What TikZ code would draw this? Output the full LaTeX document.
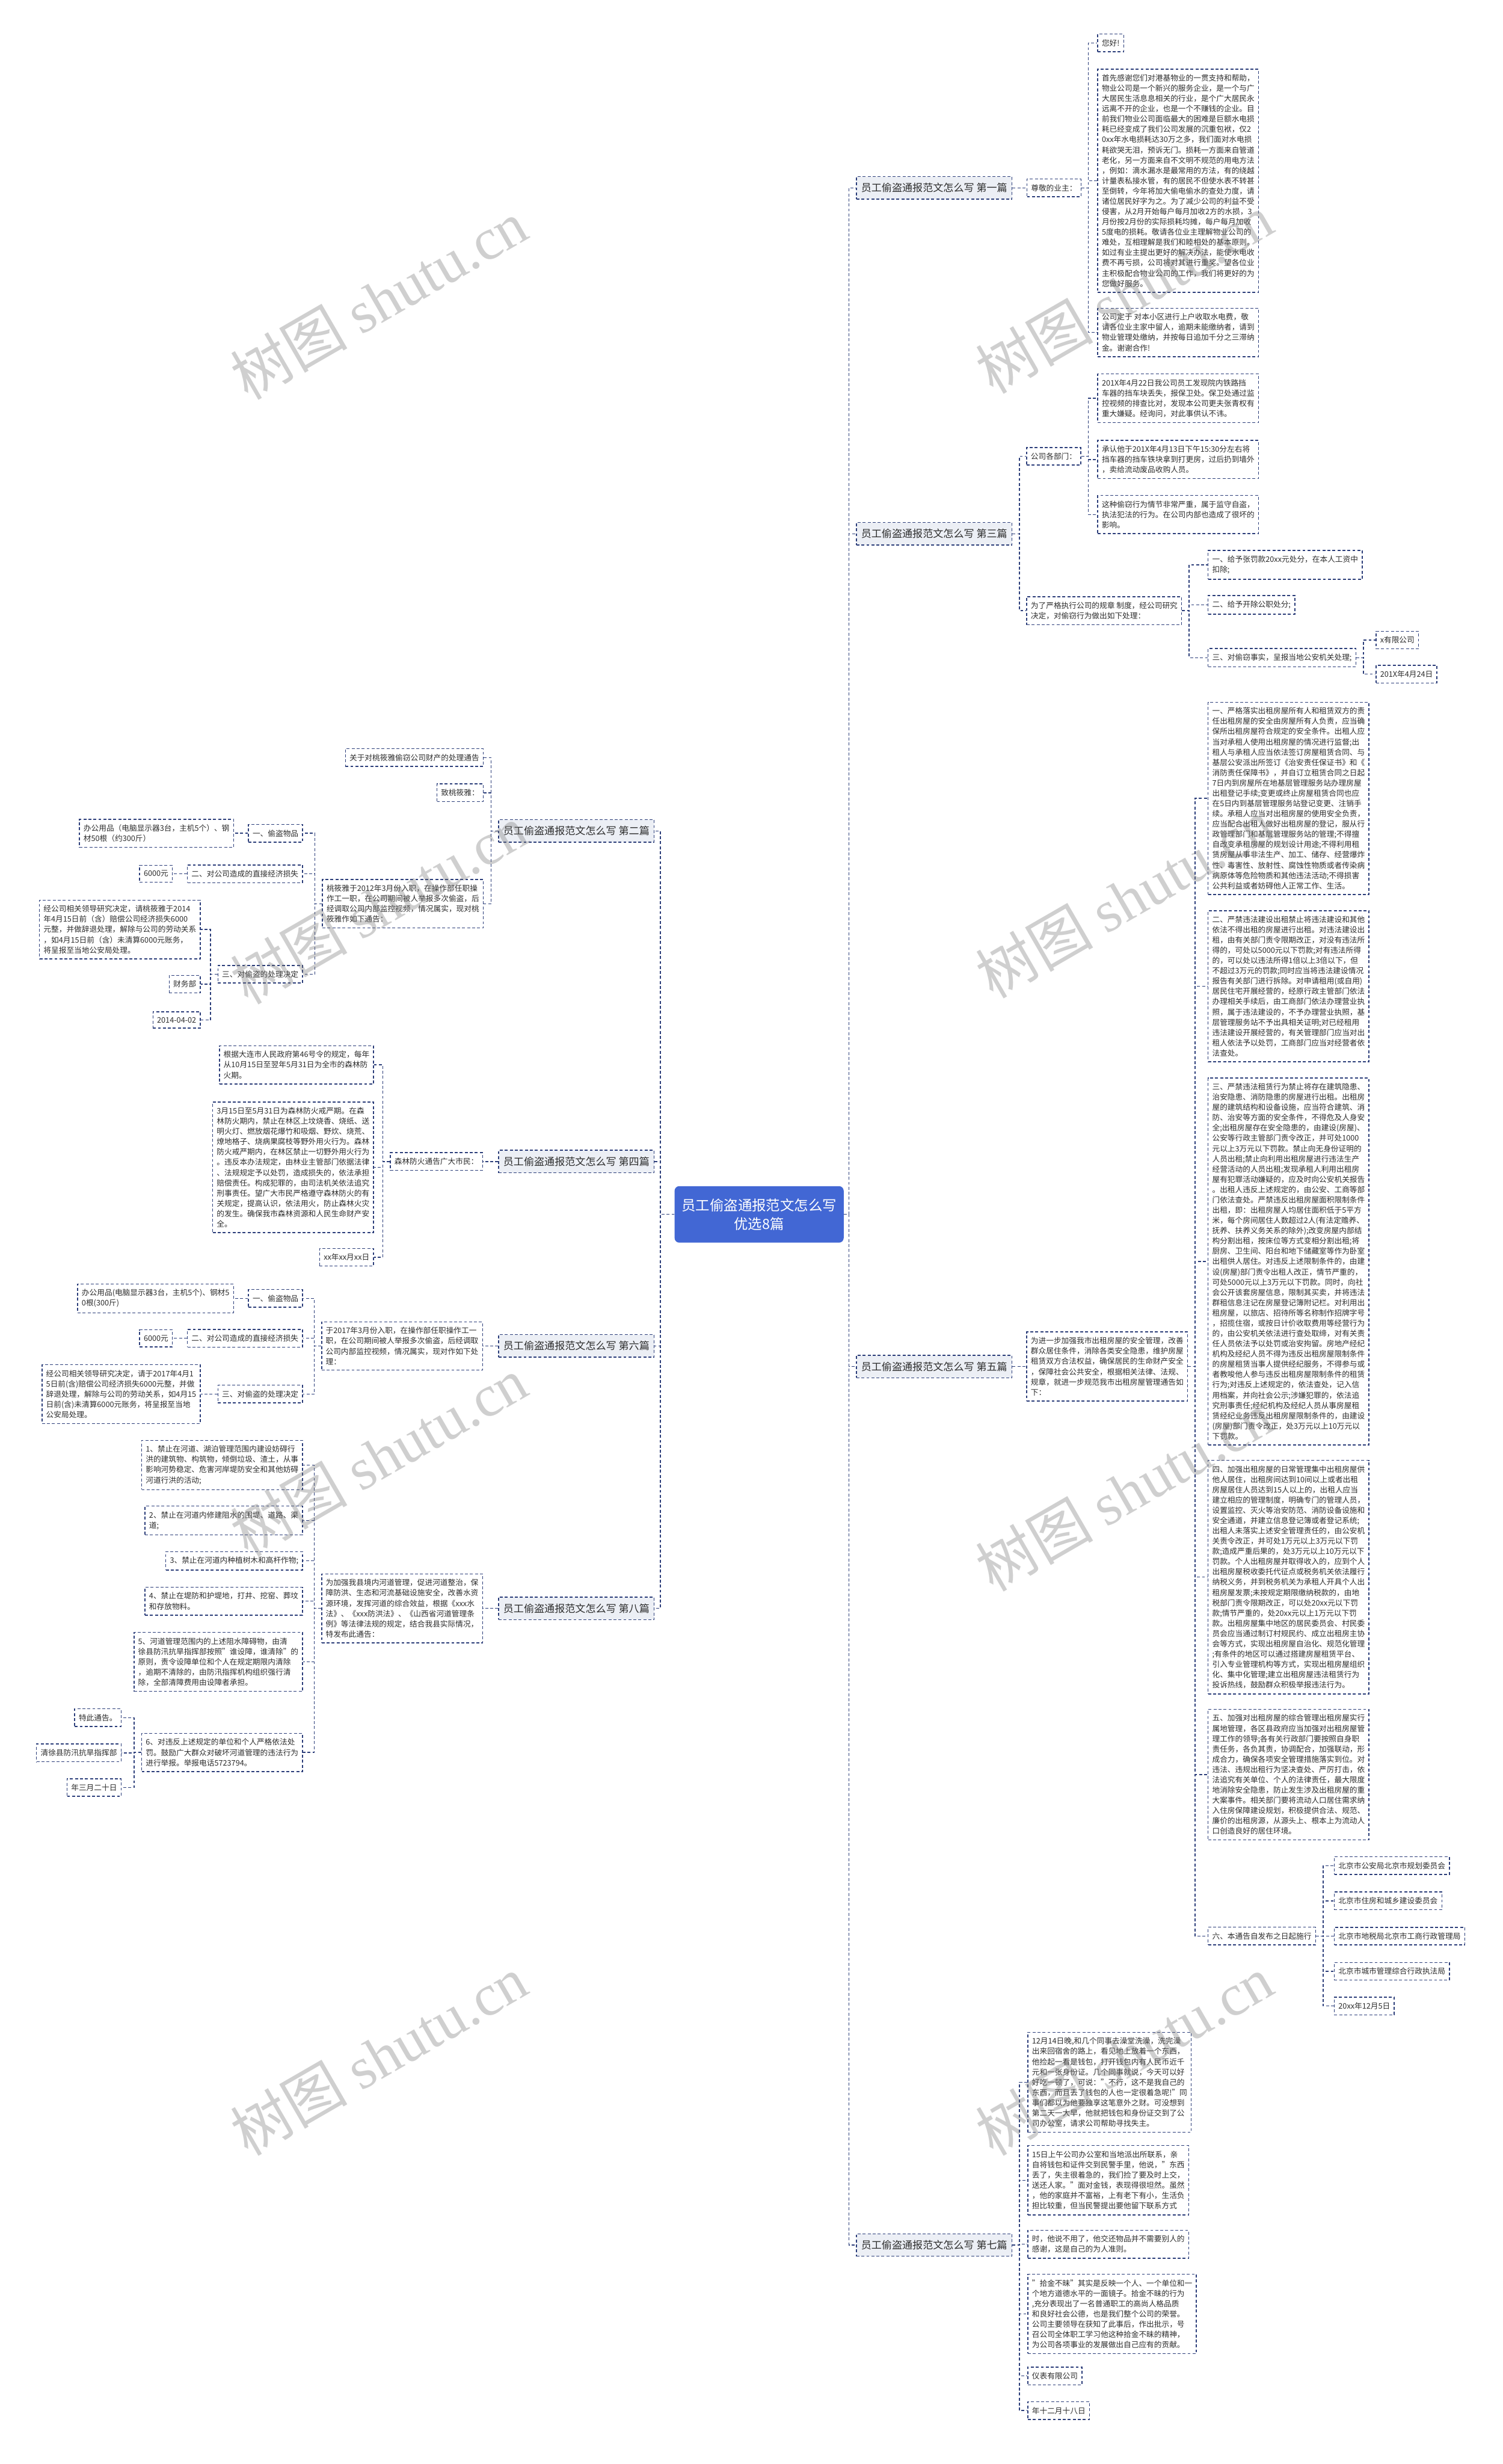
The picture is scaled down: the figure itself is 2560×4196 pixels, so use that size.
\documentclass[tikz,border=0pt]{standalone}
\usepackage{fontspec}
\setmainfont{Noto Sans CJK SC}
\newfontfamily\wmlatin{Liberation Serif}
\usepackage{xcolor}
\usetikzlibrary{positioning}
\definecolor{linea}{RGB}{44,62,122}
\definecolor{ramofill}{RGB}{236,239,245}
\definecolor{centrofill}{RGB}{66,103,212}
\definecolor{testo}{RGB}{45,45,45}
\definecolor{filig}{RGB}{120,120,120}
\tikzset{
    conn/.style={draw=linea, line width=1.5pt, dash pattern=on 5pt off 3.5pt},
    foglia/.style={draw=linea, line width=1.5pt, dash pattern=on 5pt off 3.5pt, fill=white, text=testo,
        font=\fontsize{13}{17.5}\selectfont, align=left, inner xsep=7pt, inner ysep=9pt},
    ramo/.style={foglia, fill=ramofill, font=\fontsize{17.5}{21}\selectfont, inner xsep=8pt, inner ysep=11pt},
    centro/.style={fill=centrofill, text=white, rounded corners=8pt, align=center,
        font=\fontsize{24}{32}\selectfont, inner xsep=12pt, inner ysep=21pt},
    filigrana/.style={text=filig, text opacity=0.35, rotate=30, font=\fontsize{100}{110}\selectfont}
}

\begin{document}
\begin{tikzpicture}[x=1pt, y=-1pt]
    \fill[white] (0,0) rectangle (2560,4196);
    \useasboundingbox (0,0) rectangle (2560,4196);

    % Nodo centrale
    \node[centro] (root) at (1293,2068) {员工偷盗通报范文怎么写\\优选8篇};

    % Ramo destro: primo
    \node[ramo, anchor=west] (b1) at (1458,320) {员工偷盗通报范文怎么写 第一篇};
    \node[foglia, right=24pt of b1] (n11) {尊敬的业主：};
    \node[foglia, anchor=west] (n111) at (1869,73) {您好!};
    \node[foglia, anchor=north west] (n112) at (1869,117) {首先感谢您们对港基物业的一贯支持和帮助，\\物业公司是一个新兴的服务企业，是一个与广\\大居民生活息息相关的行业，是个广大居民永\\远离不开的企业，也是一个不赚钱的企业。目\\前我们物业公司面临最大的困难是巨额水电损\\耗已经变成了我们公司发展的沉重包袱，仅2\\0xx年水电损耗达30万之多，我们面对水电损\\耗欲哭无泪，预诉无门。损耗一方面来自管道\\老化，另一方面来自不文明不规范的用电方法\\，例如：滴水漏水是最常用的方法，有的绕越\\计量表私接水管，有的居民不但使水表不转甚\\至倒转，今年将加大偷电偷水的查处力度，请\\诸位居民好字为之。为了减少公司的利益不受\\侵害，从2月开始每户每月加收2方的水损，3\\月份按2月份的实际损耗均摊，每户每月加收\\5度电的损耗。敬请各位业主理解物业公司的\\难处，互相理解是我们和睦相处的基本原则。\\如过有业主提出更好的解决办法，能使水电收\\费不再亏损，公司将对其进行重奖。望各位业\\主积极配合物业公司的工作，我们将更好的为\\您做好服务。};
    \node[foglia, anchor=north west] (n113) at (1869,524) {公司定于 对本小区进行上户收取水电费，敬\\请各位业主家中留人，逾期未能缴纳者，请到\\物业管理处缴纳，并按每日追加千分之三滞纳\\金。谢谢合作!};

    % Ramo destro: terzo
    \node[ramo, anchor=west] (b3) at (1458,909) {员工偷盗通报范文怎么写 第三篇};
    \node[foglia, anchor=west] (n31) at (1748,777) {公司各部门：};
    \node[foglia, anchor=north west] (n311) at (1869,636) {201X年4月22日我公司员工发现院内铁路挡\\车器的挡车块丢失，报保卫处。保卫处通过监\\控视频的排查比对，发现本公司更夫张青权有\\重大嫌疑。经询问，对此事供认不讳。};
    \node[foglia, anchor=north west] (n312) at (1869,749) {承认他于201X年4月13日下午15:30分左右将\\挡车器的挡车铁块拿到打更房，过后扔到墙外\\，卖给流动废品收购人员。};
    \node[foglia, anchor=north west] (n313) at (1869,843) {这种偷窃行为情节非常严重，属于监守自盗，\\执法犯法的行为。在公司内部也造成了很坏的\\影响。};
    \node[foglia, anchor=west] (n32) at (1748,1040) {为了严格执行公司的规章 制度，经公司研究\\决定，对偷窃行为做出如下处理：};
    \node[foglia, anchor=west] (n321) at (2057,962) {一、给予张罚款20xx元处分，在本人工资中\\扣除;};
    \node[foglia, anchor=west] (n322) at (2057,1030) {二、给予开除公职处分;};
    \node[foglia, anchor=west] (n323) at (2057,1120) {三、对偷窃事实，呈报当地公安机关处理;};
    \node[foglia, anchor=west] (n3231) at (2343,1090) {x有限公司};
    \node[foglia, anchor=west] (n3232) at (2343,1148) {201X年4月24日};

    % Ramo destro: quinto
    \node[ramo, anchor=west] (b5) at (1458,2327) {员工偷盗通报范文怎么写 第五篇};
    \node[foglia, anchor=west] (n51) at (1748,2327) {为进一步加强我市出租房屋的安全管理，改善\\群众居住条件，消除各类安全隐患，维护房屋\\租赁双方合法权益，确保居民的生命财产安全\\，保障社会公共安全，根据相关法律、法规、\\规章，就进一步规范我市出租房屋管理通告如\\下：};
    \node[foglia, anchor=north west] (n511) at (2057,1195) {一、严格落实出租房屋所有人和租赁双方的责\\任出租房屋的安全由房屋所有人负责，应当确\\保所出租房屋符合规定的安全条件。出租人应\\当对承租人使用出租房屋的情况进行监督;出\\租人与承租人应当依法签订房屋租赁合同、与\\基层公安派出所签订《治安责任保证书》和《\\消防责任保障书》，并自订立租赁合同之日起\\7日内到房屋所在地基层管理服务站办理房屋\\出租登记手续;变更或终止房屋租赁合同也应\\在5日内到基层管理服务站登记变更、注销手\\续。承租人应当对出租房屋的使用安全负责，\\应当配合出租人做好出租房屋的登记，服从行\\政管理部门和基层管理服务站的管理;不得擅\\自改变承租房屋的规划设计用途;不得利用租\\赁房屋从事非法生产、加工、储存、经营爆炸\\性、毒害性、放射性、腐蚀性物质或者传染病\\病原体等危险物质和其他违法活动;不得损害\\公共利益或者妨碍他人正常工作、生活。};
    \node[foglia, anchor=north west] (n512) at (2057,1550) {二、严禁违法建设出租禁止将违法建设和其他\\依法不得出租的房屋进行出租。对违法建设出\\租，由有关部门责令限期改正，对没有违法所\\得的，可处以5000元以下罚款;对有违法所得\\的，可以处以违法所得1倍以上3倍以下，但\\不超过3万元的罚款;同时应当将违法建设情况\\报告有关部门进行拆除。对申请租用(或自用)\\居民住宅开展经营的，经原行政主管部门依法\\办理相关手续后，由工商部门依法办理营业执\\照，属于违法建设的，不予办理营业执照，基\\层管理服务站不予出具相关证明;对已经租用\\违法建设开展经营的，有关管理部门应当对出\\租人依法予以处罚，工商部门应当对经营者依\\法查处。};
    \node[foglia, anchor=north west] (n513) at (2057,1835) {三、严禁违法租赁行为禁止将存在建筑隐患、\\治安隐患、消防隐患的房屋进行出租。出租房\\屋的建筑结构和设备设施，应当符合建筑、消\\防、治安等方面的安全条件，不得危及人身安\\全;出租房屋存在安全隐患的，由建设(房屋)、\\公安等行政主管部门责令改正，并可处1000\\元以上3万元以下罚款。禁止向无身份证明的\\人员出租;禁止向利用出租房屋进行违法生产\\经营活动的人员出租;发现承租人利用出租房\\屋有犯罪活动嫌疑的，应及时向公安机关报告\\。出租人违反上述规定的，由公安、工商等部\\门依法查处。严禁违反出租房屋面积限制条件\\出租，即：出租房屋人均居住面积低于5平方\\米，每个房间居住人数超过2人(有法定赡养、\\抚养、扶养义务关系的除外);改变房屋内部结\\构分割出租，按床位等方式变相分割出租;将\\厨房、卫生间、阳台和地下储藏室等作为卧室\\出租供人居住。对违反上述限制条件的，由建\\设(房屋)部门责令出租人改正，情节严重的，\\可处5000元以上3万元以下罚款。同时，向社\\会公开该套房屋信息，限制其买卖，并将违法\\群租信息注记在房屋登记簿附记栏。对利用出\\租房屋，以旅店、招待所等名称制作招牌字号\\，招揽住宿，或按日计价收取费用等经营行为\\的，由公安机关依法进行查处取缔，对有关责\\任人员依法予以处罚或治安拘留。房地产经纪\\机构及经纪人员不得为违反出租房屋限制条件\\的房屋租赁当事人提供经纪服务，不得参与或\\者教唆他人参与违反出租房屋限制条件的租赁\\行为;对违反上述规定的，依法查处，记入信\\用档案，并向社会公示;涉嫌犯罪的，依法追\\究刑事责任;经纪机构及经纪人员从事房屋租\\赁经纪业务违反出租房屋限制条件的，由建设\\(房屋)部门责令改正，处3万元以上10万元以\\下罚款。};
    \node[foglia, anchor=north west] (n514) at (2057,2486) {四、加强出租房屋的日常管理集中出租房屋供\\他人居住，出租房间达到10间以上或者出租\\房屋居住人员达到15人以上的，出租人应当\\建立相应的管理制度，明确专门的管理人员，\\设置监控、灭火等治安防范、消防设备设施和\\安全通道，并建立信息登记簿或者登记系统;\\出租人未落实上述安全管理责任的，由公安机\\关责令改正，并可处1万元以上3万元以下罚\\款;造成严重后果的，处3万元以上10万元以下\\罚款。个人出租房屋并取得收入的，应到个人\\出租房屋税收委托代征点或税务机关依法履行\\纳税义务，并到税务机关为承租人开具个人出\\租房屋发票;未按规定期限缴纳税款的，由地\\税部门责令限期改正，可以处20xx元以下罚\\款;情节严重的，处20xx元以上1万元以下罚\\款。出租房屋集中地区的居民委员会、村民委\\员会应当通过制订村规民约、成立出租房主协\\会等方式，实现出租房屋自治化、规范化管理\\;有条件的地区可以通过搭建房屋租赁平台、\\引入专业管理机构等方式，实现出租房屋组织\\化、集中化管理;建立出租房屋违法租赁行为\\投诉热线，鼓励群众积极举报违法行为。};
    \node[foglia, anchor=north west] (n515) at (2057,2910) {五、加强对出租房屋的综合管理出租房屋实行\\属地管理，各区县政府应当加强对出租房屋管\\理工作的领导;各有关行政部门要按照自身职\\责任务，各负其责，协调配合，加强联动，形\\成合力，确保各项安全管理措施落实到位。对\\违法、违规出租行为坚决查处、严厉打击，依\\法追究有关单位、个人的法律责任，最大限度\\地消除安全隐患，防止发生涉及出租房屋的重\\大案事件。相关部门要将流动人口居住需求纳\\入住房保障建设规划，积极提供合法、规范、\\廉价的出租房源，从源头上、根本上为流动人\\口创造良好的居住环境。};
    \node[foglia, anchor=west] (n516) at (2057,3297) {六、本通告自发布之日起施行};
    \node[foglia, anchor=west] (n5161) at (2272,3177) {北京市公安局北京市规划委员会};
    \node[foglia, anchor=west] (n5162) at (2272,3237) {北京市住房和城乡建设委员会};
    \node[foglia, anchor=west] (n5163) at (2272,3297) {北京市地税局北京市工商行政管理局};
    \node[foglia, anchor=west] (n5164) at (2272,3357) {北京市城市管理综合行政执法局};
    \node[foglia, anchor=west] (n5165) at (2272,3416) {20xx年12月5日};

    % Ramo destro: settimo
    \node[ramo, anchor=west] (b7) at (1458,3823) {员工偷盗通报范文怎么写 第七篇};
    \node[foglia, anchor=north west] (n71) at (1750,3460) {12月14日晚,和几个同事去澡堂洗澡，洗完澡\\出来回宿舍的路上，看见地上放着一个东西，\\他捡起一看是钱包，打开钱包内有人民币近千\\元和一张身份证。几个同事就说，今天可以好\\好吃一顿了，可说："不行，这不是我自己的\\东西，而且丢了钱包的人也一定很着急呢!"同\\事们都以为他要独享这笔意外之财。可没想到\\第二天一大早，他就把钱包和身份证交到了公\\司办公室，请求公司帮助寻找失主。};
    \node[foglia, anchor=north west] (n72) at (1750,3653) {15日上午公司办公室和当地派出所联系，亲\\自将钱包和证件交到民警手里，他说，"东西\\丢了，失主很着急的，我们捡了要及时上交，\\送还人家。"面对金钱，表现得很坦然。虽然\\，他的家庭并不富裕，上有老下有小，生活负\\担比较重，但当民警提出要他留下联系方式};
    \node[foglia, anchor=north west] (n73) at (1750,3797) {时，他说不用了，他交还物品并不需要别人的\\感谢，这是自己的为人准则。};
    \node[foglia, anchor=north west] (n74) at (1750,3872) {"拾金不昧"其实是反映一个人、一个单位和一\\个地方道德水平的一面镜子。拾金不昧的行为\\,充分表现出了一名普通职工的高尚人格品质\\和良好社会公德，也是我们整个公司的荣誉。\\公司主要领导在获知了此事后，作出批示，号\\召公司全体职工学习他这种拾金不昧的精神，\\为公司各项事业的发展做出自己应有的贡献。};
    \node[foglia, anchor=west] (n75) at (1750,4046) {仪表有限公司};
    \node[foglia, anchor=west] (n76) at (1750,4105) {年十二月十八日};

    % Ramo sinistro: secondo
    \node[ramo, anchor=east] (b2) at (1115,1415) {员工偷盗通报范文怎么写 第二篇};
    \node[foglia, anchor=east] (n21) at (824,1290) {关于对桃筱雅偷窃公司财产的处理通告};
    \node[foglia, anchor=east] (n22) at (824,1350) {致桃筱雅：};
    \node[foglia, anchor=north east] (n23) at (824,1497) {桃筱雅于2012年3月份入职，在操作部任职操\\作工一职，在公司期间被人举报多次偷盗，后\\经调取公司内部监控视频，情况属实，现对桃\\筱雅作如下通告：};
    \node[foglia, anchor=east] (n231) at (516,1419) {一、偷盗物品};
    \node[foglia, left=24pt of n231] (n2311) {办公用品（电脑显示器3台，主机5个）、钢\\材50根（约300斤）};
    \node[foglia, anchor=east] (n232) at (516,1488) {二、对公司造成的直接经济损失};
    \node[foglia, left=24pt of n232] (n2321) {6000元};
    \node[foglia, anchor=east] (n233) at (516,1659) {三、对偷盗的处理决定};
    \node[foglia, anchor=north east] (n2331) at (342,1532) {经公司相关领导研究决定，请桃筱雅于2014\\年4月15日前（含）赔偿公司经济损失6000\\元整，并做辞退处理，解除与公司的劳动关系\\，如4月15日前（含）未清算6000元账务，\\将呈报至当地公安局处理。};
    \node[foglia, anchor=east] (n2332) at (342,1676) {财务部};
    \node[foglia, anchor=east] (n2333) at (342,1737) {2014-04-02};

    % Ramo sinistro: quarto
    \node[ramo, anchor=east] (b4) at (1115,1978) {员工偷盗通报范文怎么写 第四篇};
    \node[foglia, left=26pt of b4] (n41) {森林防火通告广大市民：};
    \node[foglia, anchor=north east] (n411) at (637,1780) {根据大连市人民政府第46号令的规定，每年\\从10月15日至翌年5月31日为全市的森林防\\火期。};
    \node[foglia, anchor=north east] (n412) at (637,1876) {3月15日至5月31日为森林防火戒严期。在森\\林防火期内，禁止在林区上坟烧香、烧纸、送\\明火灯、燃放烟花爆竹和吸烟、野炊、烧荒、\\燎地格子、烧病果腐枝等野外用火行为。森林\\防火戒严期内，在林区禁止一切野外用火行为\\。违反本办法规定，由林业主管部门依据法律\\、法规规定予以处罚，造成损失的，依法承担\\赔偿责任。构成犯罪的，由司法机关依法追究\\刑事责任。望广大市民严格遵守森林防火的有\\关规定，提高认识，依法用火，防止森林火灾\\的发生。确保我市森林资源和人民生命财产安\\全。};
    \node[foglia, anchor=east] (n413) at (637,2141) {xx年xx月xx日};

    % Ramo sinistro: sesto
    \node[ramo, anchor=east] (b6) at (1115,2292) {员工偷盗通报范文怎么写 第六篇};
    \node[foglia, left=26pt of b6] (n61) {于2017年3月份入职，在操作部任职操作工一\\职，在公司期间被人举报多次偷盗，后经调取\\公司内部监控视频，情况属实，现对作如下处\\理：};
    \node[foglia, anchor=east] (n611) at (516,2211) {一、偷盗物品};
    \node[foglia, left=24pt of n611] (n6111) {办公用品(电脑显示器3台，主机5个)、钢材5\\0根(300斤)};
    \node[foglia, anchor=east] (n612) at (516,2279) {二、对公司造成的直接经济损失};
    \node[foglia, left=24pt of n612] (n6121) {6000元};
    \node[foglia, anchor=east] (n613) at (516,2374) {三、对偷盗的处理决定};
    \node[foglia, anchor=east] (n6131) at (342,2374) {经公司相关领导研究决定，请于2017年4月1\\5日前(含)赔偿公司经济损失6000元整，并做\\辞退处理，解除与公司的劳动关系，如4月15\\日前(含)未清算6000元账务，将呈报至当地\\公安局处理。};

    % Ramo sinistro: ottavo
    \node[ramo, anchor=east] (b8) at (1115,2739) {员工偷盗通报范文怎么写 第八篇};
    \node[foglia, left=26pt of b8] (n81) {为加强我县境内河道管理，促进河道整治，保\\障防洪、生态和河流基础设施安全，改善水资\\源环境，发挥河道的综合效益，根据《xxx水\\法》、《xxx防洪法》、《山西省河道管理条\\例》等法律法规的规定，结合我县实际情况，\\特发布此通告：};
    \node[foglia, anchor=north east] (n811) at (516,2452) {1、禁止在河道、湖泊管理范围内建设妨碍行\\洪的建筑物、构筑物，倾倒垃圾、渣土，从事\\影响河势稳定、危害河岸堤防安全和其他妨碍\\河道行洪的活动;};
    \node[foglia, anchor=north east] (n812) at (516,2564) {2、禁止在河道内修建阻水的围堤、道路、渠\\道;};
    \node[foglia, anchor=east] (n813) at (516,2658) {3、禁止在河道内种植树木和高杆作物;};
    \node[foglia, anchor=north east] (n814) at (516,2702) {4、禁止在堤防和护堤地，打井、挖窑、葬坟\\和存放物料。};
    \node[foglia, anchor=north east] (n815) at (516,2779) {5、河道管理范围内的上述阻水障碍物，由清\\徐县防汛抗旱指挥部按照"谁设障，谁清除"的\\原则，责令设障单位和个人在规定期限内清除\\，逾期不清除的，由防汛指挥机构组织强行清\\除，全部清障费用由设障者承担。};
    \node[foglia, anchor=north east] (n816) at (516,2951) {6、对违反上述规定的单位和个人严格依法处\\罚。鼓励广大群众对破坏河道管理的违法行为\\进行举报。举报电话5723794。};
    \node[foglia, anchor=east] (n8161) at (207,2925) {特此通告。};
    \node[foglia, anchor=east] (n8162) at (207,2985) {清徐县防汛抗旱指挥部};
    \node[foglia, anchor=east] (n8163) at (207,3044) {年三月二十日};

    % Collegamenti
    \foreach \b in {b1,b3,b5,b7}
        \draw[conn] (root.east) -- ++(9,0) |- (\b.west);
    \foreach \b in {b2,b4,b6,b8}
        \draw[conn] (root.west) -- ++(-24,0) |- (\b.east);
    \foreach \p/\c in {b1/n11, n11/n111, n11/n112, n11/n113,
                       b3/n31, b3/n32, n31/n311, n31/n312, n31/n313,
                       n32/n321, n32/n322, n32/n323, n323/n3231, n323/n3232,
                       b5/n51, n51/n511, n51/n512, n51/n513, n51/n514, n51/n515, n51/n516,
                       n516/n5161, n516/n5162, n516/n5163, n516/n5164, n516/n5165,
                       b7/n71, b7/n72, b7/n73, b7/n74, b7/n75, b7/n76}
        \draw[conn] (\p.east) -- ++(12,0) |- (\c.west);
    \foreach \p/\c in {b2/n21, b2/n22, b2/n23, n23/n231, n23/n232, n23/n233,
                       n231/n2311, n232/n2321, n233/n2331, n233/n2332, n233/n2333,
                       b4/n41, n41/n411, n41/n412, n41/n413,
                       b6/n61, n61/n611, n61/n612, n61/n613,
                       n611/n6111, n612/n6121, n613/n6131,
                       b8/n81, n81/n811, n81/n812, n81/n813, n81/n814, n81/n815, n81/n816,
                       n816/n8161, n816/n8162, n816/n8163}
        \draw[conn] (\p.west) -- ++(-12,0) |- (\c.east);

    % Filigrana
    \foreach \i/\x/\y in {1/645/510, 2/1915/500, 3/645/1540, 4/1915/1530,
                          5/645/2480, 6/1915/2540, 7/645/3500, 8/1915/3500}
        \node[filigrana] (wm\i) at (\x,\y) {树图 {\wmlatin shutu.cn}};
\end{tikzpicture}
\end{document}
